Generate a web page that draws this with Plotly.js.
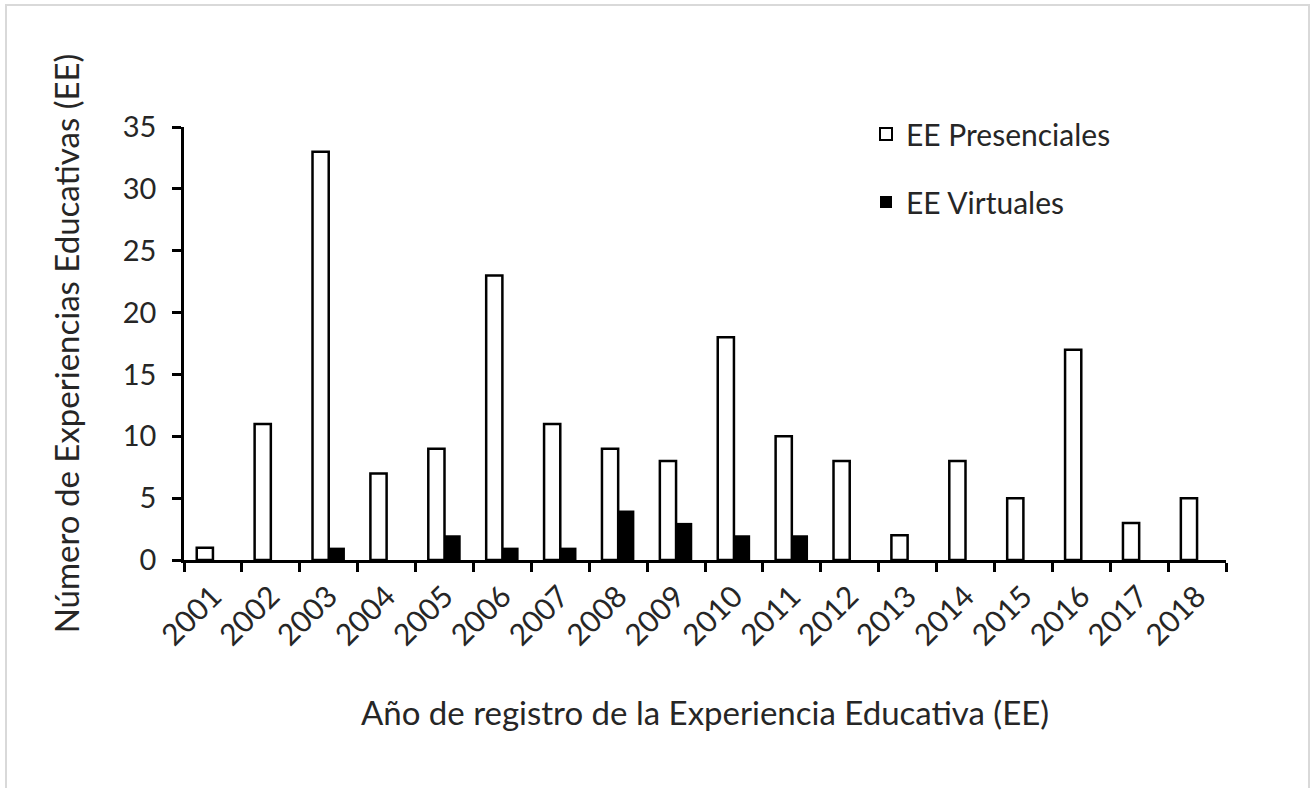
<!DOCTYPE html>
<html>
<head>
<meta charset="utf-8">
<script src="https://cdn.plot.ly/plotly-3.0.1.min.js"></script>
<style>
  html, body { margin: 0; padding: 0; background: #ffffff; }
  #chart { width: 1312px; height: 788px; }
</style>
</head>
<body>
<div id="chart"></div>
<script>
const years = ["2001","2002","2003","2004","2005","2006","2007","2008","2009","2010","2011","2012","2013","2014","2015","2016","2017","2018"];
const presenciales = [1, 11, 33, 7, 9, 23, 11, 9, 8, 18, 10, 8, 2, 8, 5, 17, 3, 5];
const virtuales = [0, 0, 1, 0, 2, 1, 1, 4, 3, 2, 2, 0, 0, 0, 0, 0, 0, 0];
const yTicks = [0, 5, 10, 15, 20, 25, 30, 35];

const FONT = "Lato, 'Liberation Sans', sans-serif";
const TXT = "#262626";

const traces = [
  {
    type: "bar",
    name: "EE Presenciales",
    x: years,
    y: presenciales,
    legendgroup: "a",
    marker: { color: "#ffffff", line: { color: "#000000", width: 2.5 } },
    hoverinfo: "x+y"
  },
  {
    type: "bar",
    name: "EE Virtuales",
    x: years,
    y: virtuales,
    legendgroup: "b",
    marker: { color: "#000000", line: { color: "#000000", width: 0 } },
    hoverinfo: "x+y"
  }
];

const L = 184, R = 1226, T = 127, B = 560;
const pw = R - L, ph = B - T;
function px(x) { return (x - L) / pw; }
function py(y) { return (B - y) / ph; }

const layout = {
  width: 1312,
  height: 788,
  margin: { l: L, r: 1312 - R, t: T, b: 788 - B },
  paper_bgcolor: "#ffffff",
  plot_bgcolor: "#ffffff",
  font: { family: FONT, color: TXT, size: 28 },
  barmode: "group",
  bargap: 0.44,
  bargroupgap: 0,
  showlegend: true,
  legend: {
    x: px(866), y: py(108), xanchor: "left", yanchor: "top",
    bgcolor: "rgba(0,0,0,0)",
    font: { family: FONT, size: 30, color: TXT },
    traceorder: "grouped",
    tracegroupgap: 26,
    itemsizing: "constant"
  },
  xaxis: {
    type: "category",
    tickson: "boundaries",
    ticks: "outside",
    ticklen: 9,
    tickwidth: 2.5,
    tickcolor: "#000000",
    showline: true,
    linecolor: "#000000",
    linewidth: 2.5,
    showgrid: false,
    zeroline: false,
    tickangle: -45,
    ticklabelstandoff: 4,
    tickfont: { family: FONT, size: 30, color: TXT },
    title: {
      text: "Año de registro de la Experiencia Educativa (EE)",
      font: { family: FONT, size: 33, color: TXT },
      standoff: 52
    }
  },
  yaxis: {
    range: [0, 35],
    tickvals: yTicks,
    ticktext: yTicks.map(String),
    ticks: "outside",
    ticklen: 9,
    tickwidth: 2.5,
    tickcolor: "#000000",
    showline: true,
    linecolor: "#000000",
    linewidth: 2.5,
    showgrid: false,
    zeroline: false,
    ticklabelstandoff: 10,
    tickfont: { family: FONT, size: 29, color: TXT },
    title: {
      text: "Número de Experiencias Educativas (EE)",
      font: { family: FONT, size: 33, color: TXT },
      standoff: 34
    }
  },
  shapes: [
    {
      type: "rect", xref: "paper", yref: "paper",
      x0: px(6), x1: px(1309), y0: py(5), y1: py(800),
      line: { color: "#d9d9d9", width: 2 },
      fillcolor: "rgba(0,0,0,0)",
      layer: "below"
    }
  ]
};

Plotly.newPlot("chart", traces, layout, { displayModeBar: false, responsive: false });
</script>
</body>
</html>
